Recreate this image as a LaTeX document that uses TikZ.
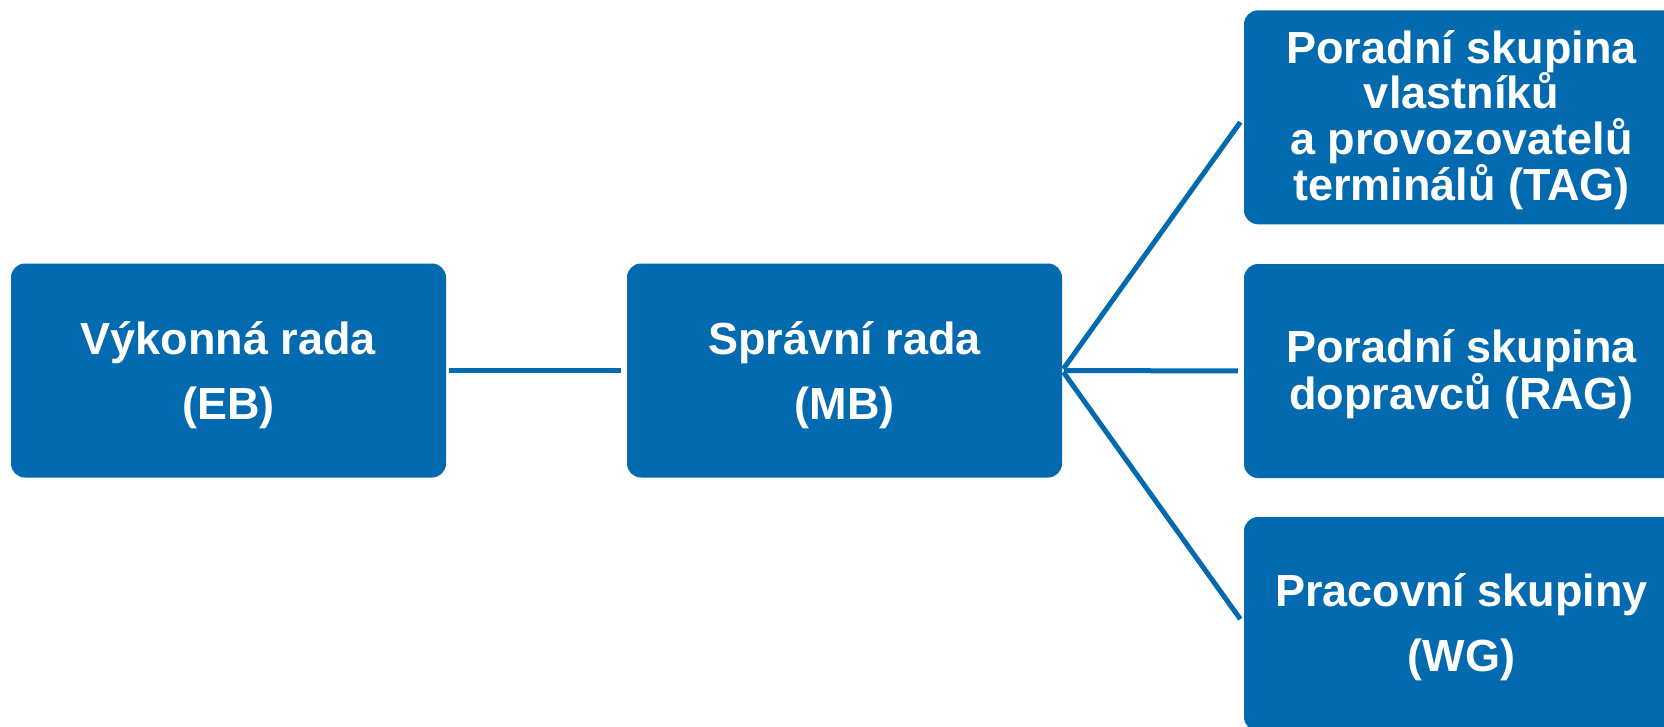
\documentclass[tikz,border=0pt]{standalone}
\usepackage{fontspec}
\setmainfont{Liberation Sans}
\definecolor{boxblue}{RGB}{4,106,175}
\newcommand\tstrut{\rule{0pt}{42pt}}
\newcommand\bstrut[1]{\rule[-#1]{0pt}{#1}}
\begin{document}
\begin{tikzpicture}[x=1pt,y=-1pt,
  orgbox/.style={fill=boxblue, draw=none, rounded corners=14pt,
    minimum width=435pt, minimum height=214pt, inner sep=0pt,
    text=white, align=center,
    font=\fontsize{45}{45}\selectfont\bfseries},
  conn/.style={draw=boxblue, line width=5pt}]
\useasboundingbox (0,0) rectangle (1664,726);
\clip (0,0) rectangle (1664,726);
\node[orgbox] (eb) at (228.5,370.5) {\tstrut Výkonná rada\\[20pt](EB)\bstrut{10pt}};
\node[orgbox] (mb) at (844.5,370.5) {\tstrut Správní rada\\[20pt](MB)\bstrut{10pt}};
\node[orgbox, font=\fontsize{45}{45.7}\selectfont\bfseries] (tag) at (1461.5,117.3)
  {\tstrut Poradní skupina\\vlastníků\\a provozovatelů\\terminálů (TAG)\bstrut{13pt}};
\node[orgbox] (rag) at (1461.5,371) {\tstrut Poradní skupina\\dopravců (RAG)\bstrut{12pt}};
\node[orgbox] (wg) at (1461.5,624) {\tstrut Pracovní skupiny\\[20pt](WG)\bstrut{13pt}};
\draw[conn, shorten <=3pt, shorten >=6pt] (eb) -- (mb);
\draw[conn, shorten <=2pt, shorten >=6pt] (mb.east) -- (tag.west);
\draw[conn, shorten <=2pt, shorten >=6pt] (mb.east) -- (rag.west);
\draw[conn, shorten <=2pt, shorten >=6pt] (mb.east) -- (wg.west);
\end{tikzpicture}
\end{document}
